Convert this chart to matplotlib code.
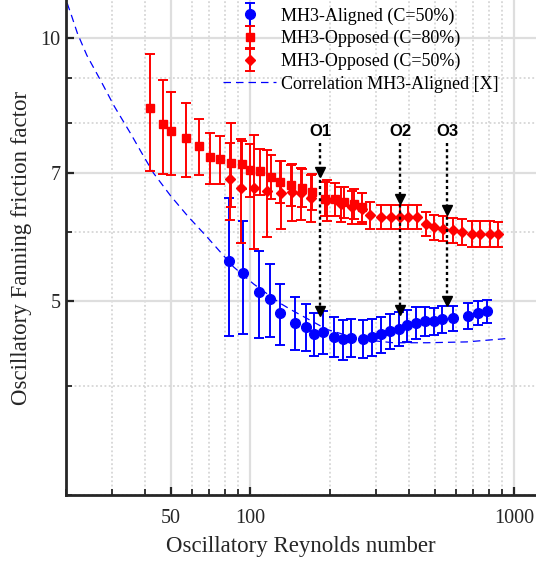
import matplotlib
matplotlib.use('Agg')
import matplotlib.pyplot as plt
from matplotlib.ticker import FixedLocator, FixedFormatter, NullFormatter
from matplotlib.legend_handler import HandlerErrorbar
from matplotlib.container import ErrorbarContainer

plt.rcParams['font.family'] = ['Liberation Serif', 'DejaVu Serif']

# ---------------- data ----------------
re_aligned = [82.8, 93.8, 108.2, 119.1, 129.9, 148.1, 162.6, 173.7, 187.8, 208, 224.4, 240.7,
              267.9, 290.4, 311.6, 338.2, 364.6, 393.2, 426.6, 460.3, 494.9, 532.3, 584.8,
              671.3, 730.4, 786.7]
f_aligned = [5.56, 5.38, 5.12, 5.03, 4.84, 4.72, 4.67, 4.59, 4.61, 4.55, 4.52, 4.54,
             4.53, 4.55, 4.58, 4.62, 4.65, 4.69, 4.72, 4.74, 4.74, 4.77, 4.78,
             4.81, 4.85, 4.87]
err_aligned = [1.0, 0.79, 0.58, 0.48, 0.39, 0.33, 0.29, 0.26, 0.26, 0.24, 0.24, 0.23,
               0.23, 0.22, 0.22, 0.21, 0.21, 0.2, 0.2, 0.18, 0.17, 0.17, 0.16,
               0.16, 0.15, 0.15]

re_opp80 = [41.5, 46.8, 50.1, 57.1, 63.7, 70.4, 76.8, 84.5, 93.0, 100, 108.4, 120.1, 129.1,
            143.0, 157.0, 171.3, 192.3, 209.9, 225.6, 246.2, 264.9]
f_opp80 = [8.31, 7.97, 7.82, 7.68, 7.52, 7.30, 7.26, 7.20, 7.17, 7.07, 7.04, 6.94, 6.85,
           6.79, 6.74, 6.67, 6.55, 6.54, 6.49, 6.46, 6.40]
err_opp80 = [1.27, 0.98, 0.85, 0.74, 0.56, 0.49, 0.46, 0.80, 0.45, 0.50, 0.42, 0.40, 0.38,
             0.36, 0.34, 0.32, 0.30, 0.28, 0.27, 0.26, 0.25]

re_opp50 = [83.5, 92.4, 103.5, 115.7, 131.1, 143.9, 156.1, 170.3, 195.2, 221.1, 243.4, 264.9,
            284.8, 313.5, 342, 370, 397.8, 428, 464.2, 497.7, 538.3, 587.5, 633.9, 691.5,
            743.3, 811.3, 871.8]
f_opp50 = [6.89, 6.74, 6.74, 6.68, 6.64, 6.67, 6.64, 6.56, 6.52, 6.46, 6.41, 6.38,
           6.27, 6.24, 6.24, 6.24, 6.24, 6.24, 6.13, 6.08, 6.05, 6.03, 6.00, 5.97,
           5.97, 5.97, 5.96]
err_opp50 = [0.70, 0.92, 1.0, 0.76, 0.6, 0.5, 0.45, 0.4, 0.35, 0.3, 0.28, 0.26,
             0.22, 0.2, 0.2, 0.2, 0.2, 0.2, 0.2, 0.2, 0.2, 0.2, 0.2, 0.2,
             0.2, 0.2, 0.2]

re_corr = [20.2, 21.0, 22.1, 24.0, 27.0, 30.5, 35.1, 39.0, 43.0, 49.8, 58.0, 68.5, 86.4,
           102.9, 129.9, 143.9, 195.2, 260.9, 348.9, 466.9, 661.2, 938.3]
f_corr = [10.96, 10.60, 10.12, 9.55, 8.95, 8.35, 7.78, 7.36, 7.00, 6.60, 6.25, 5.92, 5.47,
          5.23, 4.97, 4.88, 4.64, 4.52, 4.48, 4.48, 4.49, 4.53]

labels = ['MH3-Aligned (C=50%)', 'MH3-Opposed (C=80%)', 'MH3-Opposed (C=50%)',
          'Correlation MH3-Aligned [X]']

x_major = [50, 100, 1000]
x_major_labels = ['50', '100', '1000']
x_minor = [20, 30, 40, 60, 70, 80, 90, 200, 300, 400, 500, 600, 700, 800, 900]
y_major = [5, 7, 10]
y_major_labels = ['5', '7', '10']
y_minor = [3, 4, 6, 8, 9]

# annotation arrows
arrow_names = ['O1', 'O2', 'O3']
arrow_re = [184, 370, 557]
arrow_text_f = 7.81
arrow_top_f = 7.59
arrow_upper_head_f = [7.03, 6.55, 6.36]
arrow_lower_head_f = [4.87, 4.89, 5.00]

# ---------------- figure ----------------
W, H = 536, 562
fig = plt.figure(figsize=(W / 100, H / 100), dpi=100)
ax = fig.add_axes([66 / W, 67 / H, 470 / W, 495 / H])
ax.set_xscale('log')
ax.set_yscale('log')
ax.set_xlim(20, 1211)
ax.set_ylim(3, 11.05)

ax.xaxis.set_major_locator(FixedLocator(x_major))
ax.xaxis.set_major_formatter(FixedFormatter(x_major_labels))
ax.xaxis.set_minor_locator(FixedLocator(x_minor))
ax.xaxis.set_minor_formatter(NullFormatter())
ax.yaxis.set_major_locator(FixedLocator(y_major))
ax.yaxis.set_major_formatter(FixedFormatter(y_major_labels))
ax.yaxis.set_minor_locator(FixedLocator(y_minor))
ax.yaxis.set_minor_formatter(NullFormatter())

ax.grid(which='major', color='#dedede', lw=1.6, ls='-')
ax.grid(which='minor', color='#cfcfcf', lw=1.1, ls=(0, (1.2, 1.6)))
ax.set_axisbelow(True)

for s in ['top', 'right']:
    ax.spines[s].set_visible(False)
for s in ['left', 'bottom']:
    ax.spines[s].set_linewidth(2)
    ax.spines[s].set_color('#262626')

ax.tick_params(which='major', direction='in', length=6, width=1.6, color='#262626',
               labelsize=14.5, labelcolor='#262626')
ax.tick_params(which='minor', direction='in', length=4, width=1.3, color='#262626')
ax.tick_params(axis='x', which='major', pad=10)
ax.tick_params(axis='y', which='major', pad=4)

# correlation
corr, = ax.plot(re_corr, f_corr, color='blue', lw=0.9, dashes=(6, 4), zorder=2)

eb_kw = dict(capsize=3.6, elinewidth=1.4, capthick=1.4, linestyle='none', zorder=3)
h1 = ax.errorbar(re_aligned, f_aligned, yerr=err_aligned, fmt='o', color='blue',
                 ms=7.0, **eb_kw)
h2 = ax.errorbar(re_opp80, f_opp80, yerr=err_opp80, fmt='s', color='red',
                 ms=5.4, **eb_kw)
h3 = ax.errorbar(re_opp50, f_opp50, yerr=err_opp50, fmt='D', color='red',
                 ms=4.9, **eb_kw)

# arrows & labels
for name, rx, fu, fl in zip(arrow_names, arrow_re, arrow_upper_head_f, arrow_lower_head_f):
    ax.plot([rx, rx], [arrow_top_f, fl], color='black', lw=1.7, ls=(0, (1.3, 1.3)), zorder=5)
    ax.plot([rx, rx], [fu, fl], ls='none', marker='v', color='black', ms=7, zorder=6)
    ax.text(rx, arrow_text_f, name, ha='center', va='center', fontsize=12,
            fontweight='bold', family='Liberation Sans', color='black', zorder=6)

leg = ax.legend([h1, h2, h3, corr], labels, loc='upper left',
                bbox_to_anchor=(0.334, 0.985), frameon=False, fontsize=13,
                handlelength=2.95, handletextpad=0.25, labelspacing=0.3,
                borderpad=0, borderaxespad=0,
                handler_map={ErrorbarContainer: HandlerErrorbar(yerr_size=0.62)})

ax.set_xlabel('Oscillatory Reynolds number', fontsize=16.5, color='#262626')
ax.set_ylabel('Oscillatory Fanning friction factor', fontsize=16.5, color='#262626')
ax.xaxis.set_label_coords(0.5, -0.083)
ax.yaxis.set_label_coords(-0.072, 0.5)

fig.savefig('out.png', dpi=100)
